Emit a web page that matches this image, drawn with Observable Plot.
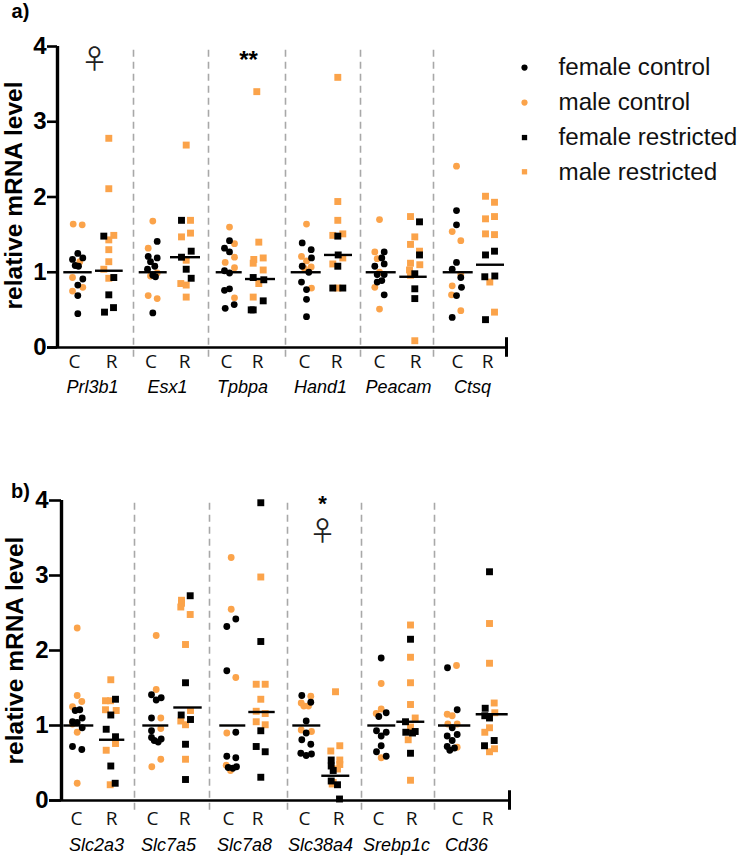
<!DOCTYPE html>
<html><head><meta charset="utf-8">
<script src="https://cdn.jsdelivr.net/npm/d3@7"></script>
<script src="https://cdn.jsdelivr.net/npm/@observablehq/plot@0.6"></script>
<style>html,body{margin:0;padding:0;background:#fff}svg{display:block}</style>
</head><body><div id="chart"></div>
<script>
const ORANGE = "#FBA34A";
// Panel a: [position along the axis, relative mRNA level]
const aFemaleControl = [[77.3,1.25],[72,1.17],[82.3,1.19],[74.7,1.09],[78,1.08],[82.3,.91],[77.3,.83],[77.3,.69],[77.3,.45],
[156.7,1.41],[147.7,1.21],[156.7,1.19],[150,1.14],[147,1.04],[154.3,1.08],[152.3,.96],[155,.94],[152.3,.46],
[229,1.42],[224,1.32],[229,1.27],[224,1.02],[229,.99],[229,.78],[224,.76],[233.7,.57],[224.7,.52],
[301.7,1.39],[310.7,1.30],[311,1.19],[301.7,1.08],[308.3,1.0],[301,.87],[306,.77],[306,.64],[306,.41],
[383.7,1.27],[381.3,1.19],[374.3,1.08],[383.7,1.11],[383.7,.97],[376.7,.97],[381.3,.89],[376.7,.87],[383.7,.70],
[456,1.82],[456,1.63],[456,1.13],[451.7,1.04],[460.3,.93],[461,.80],[456,.69],[451.7,.40]];
const aMaleControl = [[72.7,1.64],[81.7,1.63],[79.3,1.14],[72,.93],[82.3,.80],[72,.75],
[152.3,1.68],[147.7,1.32],[156.7,.99],[150,.95],[147.7,.69],[156.7,.65],
[229,1.60],[234,1.38],[234,1.20],[224.7,1.13],[234,1.06],[234,.66],
[306,1.64],[301,1.21],[306,1.15],[310.7,1.07],[304,1.05],[311,.79],
[379,1.70],[374.3,1.27],[376.7,1.18],[379,1.00],[374.3,.80],[379,.51],
[456,2.41],[451.7,1.54],[460.3,1.42],[460.3,.97],[451.7,.82],[451,.70],[460.3,.49]];
const aFemaleRestricted = [[103.3,1.48],[113.3,.93],[108.3,.70],[113,.53],[104,.47],
[181,1.69],[190.7,1.28],[181,1.20],[185.7,1.04],[190.7,.92],
[252.7,.93],[263.3,.90],[262.7,.62],[252.7,.50],[250.7,.50],
[337.3,1.48],[337.7,1.23],[337.3,1.08],[332.3,.79],[342.3,.79],
[419,1.67],[419,1.23],[414.3,.98],[414.3,.78],[414.3,.65],
[494,1.28],[485,1.23],[484.3,.94],[494.3,.95],[485,.37]];
const aMaleRestricted = [[108.3,2.78],[108.3,2.11],[113.3,1.49],[108.3,1.43],[108.3,1.30],[108.3,1.14],[103.3,1.04],[108.3,.92],
[185.7,2.69],[190,1.69],[190,1.52],[181,1.47],[185.7,1.16],[180.3,.85],[185.7,.83],[185.7,.67],
[256.3,3.40],[258.3,1.40],[262.7,1.19],[253.3,1.17],[252.7,1.12],[262.7,1.03],[258.3,.85],[252.7,.67],
[337.3,3.59],[337.3,1.94],[337.3,1.69],[332.3,1.49],[342.3,1.51],[342.3,1.19],[332.3,1.11],[337.3,.79],
[410,1.74],[414.3,1.47],[410,1.37],[419,1.28],[410,1.12],[419.3,1.10],[409,1.03],[410,.96],[414.3,.09],
[485,2.01],[494,1.93],[494,1.74],[485,1.71],[485,1.51],[494,1.50],[489.3,.87],[494,.47]];
// mean bars: [from, to, level]
const aMeans = [[63.3,91.7,1],[95,122.7,1.02],[138.7,166.7,1],[170,200,1.2],[215.7,241.7,1],[245,275,.91],
[290.7,320.7,1],[324,352,1.23],[365.7,395.7,1],[399.3,426.7,.94],[442.7,472.7,1],[476,504,1.1]];
const aGenes = ["Prl3b1","Esx1","Tpbpa","Hand1","Peacam","Ctsq"];
const aGeneAt = [92,167,242,320,398,472];
const aCAt = [74,150.5,226,304,379,457];
const aRAt = [111,184,257,336,415,487];
const aDividers = [133,208,285,360,433];

// Panel b
const bFemaleControl = [[74.7,1.20],[79.3,1.21],[81.7,1.10],[72,1.05],[76.7,1.04],[81.7,.97],[72,.72],[81.3,.68],
[151,1.41],[160.7,1.37],[155.7,1.34],[151,1.10],[151,.93],[151,.84],[153.7,.80],[160.7,.82],[157.7,.78],
[235.3,2.42],[226.3,2.32],[226.3,1.73],[235.3,.91],[226.3,.59],[235.3,.57],[227.7,.44],[236,.45],[232.3,.43],
[301.3,1.40],[310.3,1.31],[305.7,1.06],[305.7,.90],[301.3,.81],[310.3,.75],[300.3,.63],[305.7,.60],[311,.62],
[380.7,1.90],[385.7,1.17],[378.3,1.12],[376,.93],[385.7,.91],[380.7,.86],[380.7,.73],[376,.65],[385.7,.59],
[447,1.77],[456.7,1.21],[451.7,.97],[446.7,.86],[456.7,.88],[451.7,.80],[446.7,.72],[449.3,.67],[454,.70]];
const bMaleControl = [[76.7,2.30],[76.7,1.40],[81.3,1.32],[72,1.25],[76.7,.91],[72,1.02],[76.7,.23],
[155.7,2.20],[155.7,1.48],[160.3,1.10],[160.3,.96],[160.3,.55],[151.3,.45],
[230.7,3.24],[230.7,2.55],[235.3,1.64],[226.3,.90],[225.7,.47],[230,.40],
[310.3,1.39],[300.7,1.30],[303.3,1.26],[308,1.26],[300.7,.94],[311,.92],
[380.7,1.56],[380.7,1.22],[375.7,1.16],[380.7,.57],
[456,1.80],[446.7,1.15],[451.7,1.13],[447.3,1.02],[456.7,1.02],[456.7,.71]];
const bFemaleRestricted = [[115,1.35],[110.3,1.14],[105.7,.95],[115,.85],[110.3,.46],[114.7,.23],
[189.7,2.73],[185,1.57],[180.7,1.14],[190,1.08],[185,.75],[185,.28],
[260.3,3.97],[260.3,2.12],[260.3,.93],[255.7,.72],[264.7,.65],[260.3,.31],
[330.7,.54],[330.7,.46],[332.7,.40],[330.7,.26],[337,.21],[339,.02],
[410,2.15],[405,1.05],[405.3,.91],[414.7,.92],[412,.90],[410,.63],
[489,3.05],[484.7,1.23],[484.3,1.13],[489,1.10],[493.7,.80],[484,.73]];
const bMaleRestricted = [[110.3,1.61],[105,1.33],[110,1.33],[105,1.21],[115.7,1.20],[115,.76],[105.7,.67],[109.7,.21],
[181,2.67],[181,2.63],[180.3,2.58],[189.7,2.48],[185,2.08],[190,1.20],[180.3,1.06],[185,1.01],[185,.55],
[260.3,2.98],[255.7,1.55],[264.7,1.55],[260.3,1.35],[255.7,1.19],[264.7,1.16],[255.7,1.05],[264.7,1.01],
[335,1.45],[330.3,.66],[339.3,.73],[339.3,.54],[339.3,.48],[337,.42],[332.7,.24],[331.7,.22],
[410,2.34],[410,1.91],[410,1.57],[410,1.28],[414.7,1.10],[410,.98],[407.7,.81],[410,.27],
[489,2.36],[489,1.83],[493.7,1.30],[494.3,1.17],[489,.97],[484.3,.91],[494,.69],[489,.65]];
const bMeans = [[63.3,93.3,1],[99,124.3,.81],[142.3,168.3,1],[173.3,201.7,1.24],[219.3,245.3,1],[248.3,274.7,1.18],
[292.3,320.3,1],[321.3,349.3,.33],[367.3,395.3,1],[396.3,424.3,1.05],[438,470.3,1],[475.7,507.7,1.15]];
const bGenes = ["Slc2a3","Slc7a5","Slc7a8","Slc38a4","Srebp1c","Cd36"];
const bGeneAt = [96,168,244,320,396,466];
const bCAt = [76,152,228,304,378,457];
const bRAt = [111,184,257,338,411,487];
const bDividers = [134,209,287,361,434];

const legendLabels = ["female control","male control","female restricted","male restricted"];
const legendLevels = [3.72,3.255,2.79,2.335];
const legendFill = ["black",ORANGE,"black",ORANGE];
const legendSymbol = ["circle","circle","square","square"];
const yTicks = [0,1,2,3,4];
const SANS = "Liberation Sans", DOT = 3.4, SQUARE = 3.9;

function pts(arr, fill, symbol){
  return Plot.dot(arr,{x:d=>d[0],y:d=>d[1],r:symbol==="square"?SQUARE:DOT,fill,symbol,stroke:"none"});
}
function panel(p){
  return Plot.plot({
    width:738,height:p.height,marginLeft:p.left,marginRight:0,marginTop:p.top,marginBottom:p.bottom,
    style:{fontFamily:SANS,background:"white",overflow:"visible"},
    x:{type:"linear",domain:[p.left,738],range:[p.left,738],axis:null},
    y:{domain:[0,4],axis:null},
    marks:[
      Plot.ruleX(p.dividers,{x:d=>d,y1:-0.13,y2:4,stroke:"#a8a8a8",strokeWidth:1.6,strokeDasharray:"7,5"}),
      pts(p.mc,ORANGE,"circle"),pts(p.mr,ORANGE,"square"),
      pts(p.fc,"black","circle"),pts(p.fr,"black","square"),
      Plot.ruleY(p.means,{x1:d=>d[0],x2:d=>d[1],y:d=>d[2],stroke:"black",strokeWidth:2.4}),
      Plot.ruleY([0],{x1:p.left-p.tick,x2:p.end,stroke:"black",strokeWidth:2.6}),
      Plot.ruleX([p.end],{y1:-0.13,y2:0.13,stroke:"black",strokeWidth:3}),
      Plot.ruleX([p.left],{y1:0,y2:4,stroke:"black",strokeWidth:3.4}),
      Plot.axisY({ticks:yTicks,tickSize:p.tick,tickPadding:1,tickFormat:"d",strokeWidth:2.6,stroke:"black",
        fontSize:24,fontWeight:"bold",fill:"black",label:null}),
      Plot.text(["relative mRNA level"],{x:p.ylabelX,y:p.ylabelY,rotate:-90,fontSize:24.5,fontWeight:"bold",fill:"black",fontFamily:SANS}),
      Plot.text(p.cAt,{x:d=>d,y:p.groupY,text:()=>"C",fontSize:19,fontFamily:"Open Sans",fill:"#111"}),
      Plot.text(p.rAt,{x:d=>d,y:p.groupY,text:()=>"R",fontSize:19,fontFamily:"Open Sans",fill:"#111"}),
      Plot.text(p.genes,{x:(d,i)=>p.geneAt[i],y:p.geneY,text:d=>d,fontSize:18,fontStyle:"italic",fontFamily:SANS,fill:"black"}),
      Plot.text([p.tag],{x:20,y:p.tagY,fontSize:20,fontWeight:"bold",fill:"black"}),
      ...p.extra
    ]
  });
}
const a = panel({height:425,left:57,top:46,bottom:78,tick:10,end:506,dividers:aDividers,
  mc:aMaleControl,mr:aMaleRestricted,fc:aFemaleControl,fr:aFemaleRestricted,means:aMeans,
  ylabelX:13.5,ylabelY:2.02,groupY:-0.19,cAt:aCAt,rAt:aRAt,genes:aGenes,geneAt:aGeneAt,geneY:-0.53,tag:"a)",tagY:4.47,
  extra:[
    Plot.text(["♀"],{x:94,y:3.81,fontSize:27,fontFamily:"Noto Sans CJK SC",fill:"#222"}),
    Plot.text(["**"],{x:248,y:3.82,fontSize:24,fontWeight:"bold",fill:"black"}),
    Plot.dot(legendLabels,{x:()=>524,y:(d,i)=>legendLevels[i],r:(d,i)=>legendSymbol[i]==="square"?3:3.2,fill:(d,i)=>legendFill[i],symbol:(d,i)=>legendSymbol[i]}),
    Plot.text(legendLabels,{x:()=>558,y:(d,i)=>legendLevels[i],text:d=>d,textAnchor:"start",fontSize:24.2,fill:"#111",fontFamily:SANS})
  ]});
const b = panel({height:430,left:61,top:75,bottom:55,tick:12,end:509,dividers:bDividers,
  mc:bMaleControl,mr:bMaleRestricted,fc:bFemaleControl,fr:bFemaleRestricted,means:bMeans,
  ylabelX:15,ylabelY:2.0,groupY:-0.25,cAt:bCAt,rAt:bRAt,genes:bGenes,geneAt:bGeneAt,geneY:-0.59,tag:"b)",tagY:4.12,
  extra:[
    Plot.text(["♀"],{x:322,y:3.57,fontSize:27,fontFamily:"Noto Sans CJK SC",fill:"#222"}),
    Plot.text(["*"],{x:322,y:3.95,fontSize:22,fontWeight:"bold",fill:"black"})
  ]});
document.getElementById("chart").append(a,b);
</script></body></html>
